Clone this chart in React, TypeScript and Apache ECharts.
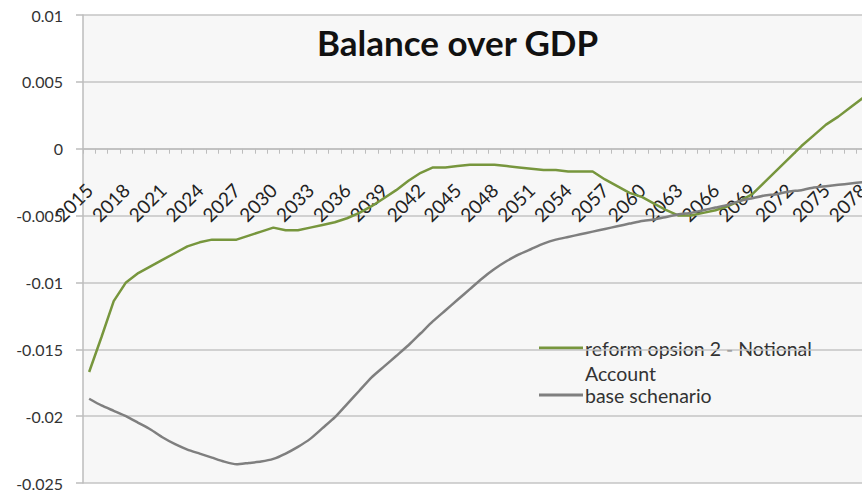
import React, { useEffect, useRef } from "react";
import * as echarts from "echarts";

const years: string[] = [];
for (let y = 2015; y <= 2078; y++) years.push(String(y));

const reformValues = [
  -0.0167, -0.0141, -0.0114, -0.0100, -0.0093, -0.0088, -0.0083, -0.0078, -0.0073, -0.0070,
  -0.0068, -0.0068, -0.0068, -0.0065, -0.0062, -0.0059, -0.0061, -0.0061, -0.0059, -0.0057,
  -0.0055, -0.0052, -0.0048, -0.0043, -0.0037, -0.0031, -0.0024, -0.0018, -0.0014, -0.0014,
  -0.0013, -0.0012, -0.0012, -0.0012, -0.0013, -0.0014, -0.0015, -0.0016, -0.0016, -0.0017,
  -0.0017, -0.0017, -0.0023, -0.0028, -0.0033, -0.0036, -0.0041, -0.0046, -0.0050, -0.0050,
  -0.0048, -0.0046, -0.0043, -0.0039, -0.0034, -0.0025, -0.0016, -0.0007, 0.0002, 0.0010,
  0.0018, 0.0024, 0.0031, 0.0038,
];

const baseValues = [
  -0.0187, -0.0192, -0.0196, -0.0200, -0.0205, -0.0210, -0.0216, -0.0221, -0.0225, -0.0228,
  -0.0231, -0.0234, -0.0236, -0.0235, -0.0234, -0.0232, -0.0228, -0.0223, -0.0217, -0.0209,
  -0.0201, -0.0191, -0.0181, -0.0171, -0.0163, -0.0155, -0.0147, -0.0138, -0.0129, -0.0121,
  -0.0113, -0.0105, -0.0097, -0.0090, -0.0084, -0.0079, -0.0075, -0.0071, -0.0068, -0.0066,
  -0.0064, -0.0062, -0.0060, -0.0058, -0.0056, -0.0054, -0.0053, -0.0051, -0.0049, -0.0048,
  -0.0046, -0.0044, -0.0042, -0.0039, -0.0037, -0.0035, -0.0034, -0.0032, -0.0031, -0.0029,
  -0.0028, -0.0027, -0.0026, -0.0025,
];

const seriesNames = ["reform opsion 2 - Notional Account", "base schenario"];
const legendLabels = ["reform opsion 2 - Notional\nAccount", "base schenario"];
const titleText = "Balance over GDP";
const yMin = -0.025;
const yMax = 0.01;
const yStep = 0.005;

const GREEN = "#77963d";
const GREY = "#7f7f7f";
const FONT = "Lato, 'Open Sans', sans-serif";

const GRID_TOP = 15;
const GRID_BOTTOM = 10;
const CHART_H = 493;

export default function App() {
  const ref = useRef<HTMLDivElement>(null);
  useEffect(() => {
    document.body.style.margin = "0";
    if (!ref.current) return;
    const chart = echarts.init(ref.current, undefined, { renderer: "svg" });
    const plotH = CHART_H - GRID_TOP - GRID_BOTTOM;
    const zeroFromBottom = plotH * ((0 - yMin) / (yMax - yMin));
    chart.setOption({
      animation: false,
      backgroundColor: "#ffffff",
      title: {
        text: titleText,
        left: 312,
        top: 19,
        textStyle: { fontFamily: FONT, fontSize: 35, fontWeight: "bold", color: "#111" },
      },
      grid: {
        left: 83,
        top: GRID_TOP,
        bottom: GRID_BOTTOM,
        right: -7,
        containLabel: false,
        outerBoundsMode: "none",
        show: true,
        backgroundColor: "#f7f7f7",
        borderWidth: 0,
      },
      xAxis: {
        type: "category",
        data: years,
        boundaryGap: true,
        position: "bottom",
        offset: -zeroFromBottom,
        axisLine: { onZero: false, lineStyle: { color: "#bdbdbd", width: 1.5 } },
        axisTick: { show: true, interval: 0, length: 5, lineStyle: { color: "#bdbdbd" } },
        axisLabel: {
          interval: 2,
          rotate: 45,
          margin: 38,
          fontFamily: FONT,
          fontSize: 19,
          color: "#222",
        },
        splitLine: { show: false },
      },
      yAxis: {
        type: "value",
        min: yMin,
        max: yMax,
        interval: yStep,
        axisLine: { show: true, lineStyle: { color: "#bdbdbd", width: 1.5 } },
        axisTick: { show: true, length: 7, lineStyle: { color: "#bdbdbd", width: 1.5 } },
        axisLabel: { fontFamily: FONT, fontSize: 16, color: "#333", margin: 20 },
        splitLine: { lineStyle: { color: "#c4c4c4", width: 1.5 } },
      },
      series: [
        {
          name: seriesNames[0],
          type: "line",
          data: reformValues,
          symbol: "none",
          lineStyle: { color: GREEN, width: 2.5 },
          itemStyle: { color: GREEN },
        },
        {
          name: seriesNames[1],
          type: "line",
          data: baseValues,
          symbol: "none",
          smooth: 0.2,
          lineStyle: { color: GREY, width: 2.5 },
          itemStyle: { color: GREY },
        },
      ],
      graphic: [
        { type: "line", shape: { x1: 539, y1: 348, x2: 583, y2: 348 }, style: { stroke: GREEN, lineWidth: 3 } },
        {
          type: "text",
          x: 585,
          y: 336,
          style: { text: legendLabels[0], fontFamily: FONT, fontSize: 19.5, fill: "#333", lineHeight: 25 },
        },
        { type: "line", shape: { x1: 539, y1: 395, x2: 583, y2: 395 }, style: { stroke: GREY, lineWidth: 3 } },
        {
          type: "text",
          x: 585,
          y: 383,
          style: { text: legendLabels[1], fontFamily: FONT, fontSize: 19.5, fill: "#333", lineHeight: 25 },
        },
      ],
    });
    return () => chart.dispose();
  }, []);
  return <div ref={ref} style={{ width: 862, height: 493 }} />;
}
